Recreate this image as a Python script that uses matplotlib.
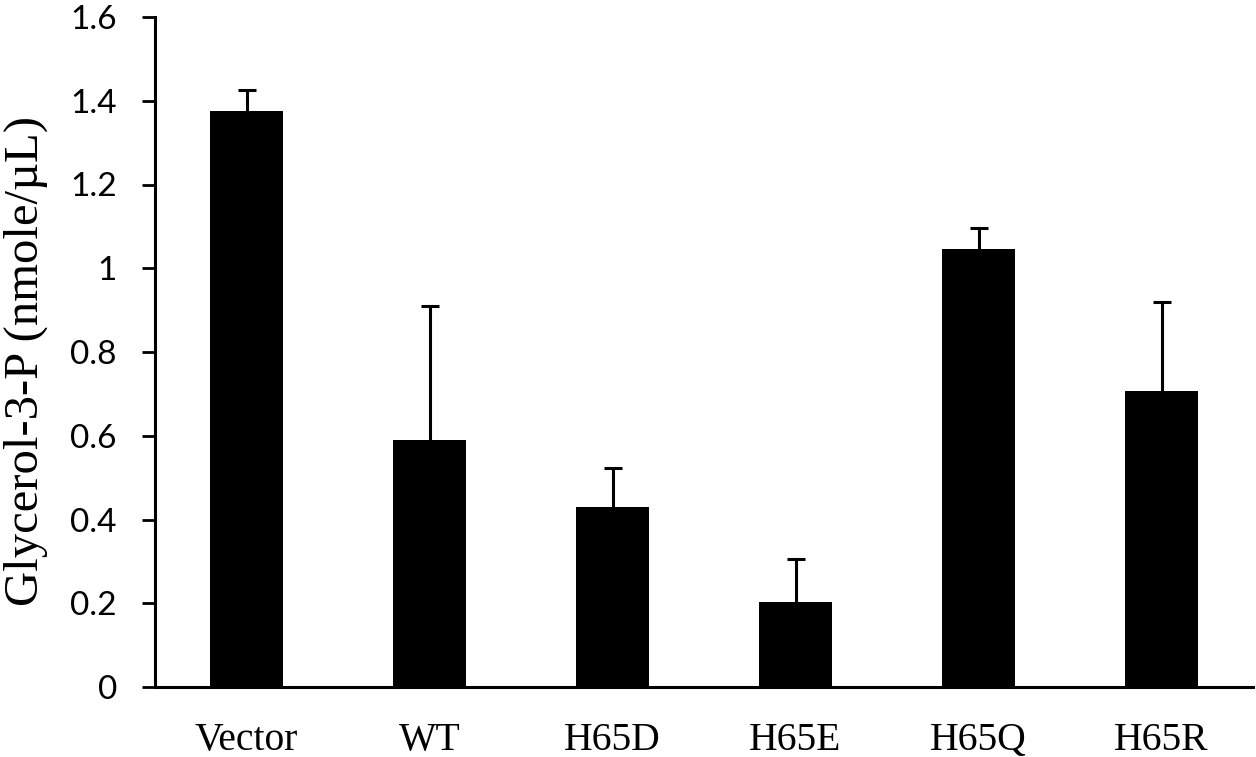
import matplotlib
matplotlib.use("Agg")
import matplotlib.pyplot as plt
import numpy as np

# values
categories = ["Vector", "WT", "H65D", "H65E", "H65Q", "H65R"]
means = [1.375, 0.59, 0.43, 0.203, 1.045, 0.708]
errors = [0.05, 0.32, 0.092, 0.102, 0.05, 0.212]
y_ticks = [0, 0.2, 0.4, 0.6, 0.8, 1, 1.2, 1.4, 1.6]
y_tick_labels = ["0", "0.2", "0.4", "0.6", "0.8", "1", "1.2", "1.4", "1.6"]
y_label = "Glycerol-3-P (nmole/\u00b5L)"

fig = plt.figure(figsize=(12.56, 7.57), dpi=100)
ax = fig.add_axes([155 / 1256, 70 / 757, 1098 / 1256, 670 / 757])

x = np.arange(len(categories))
zeros = [0] * len(errors)
ax.bar(x, means, width=0.4, color="black", zorder=2)
eb = ax.errorbar(x, means, yerr=[zeros, errors], fmt="none", ecolor="black",
                 elinewidth=2.2, capsize=6.5, capthick=2.2, zorder=1)
# only the upper cap is drawn in the original
eb[1][0].set_visible(False)

ax.set_xlim(-0.5, len(categories) - 0.5)
ax.set_ylim(0, 1.6)
ax.set_yticks(y_ticks)
ax.set_yticklabels(y_tick_labels, fontfamily="Lato", fontsize=24)
ax.set_xticks(x)
ax.set_xticklabels(categories, fontfamily="Liberation Serif", fontsize=28.5)
ax.tick_params(axis="x", length=0, pad=25)
ax.tick_params(axis="y", length=9.4, width=2.0, pad=18)
ax.set_ylabel(y_label, fontfamily="Liberation Serif", fontsize=35)
ax.yaxis.set_label_coords(-0.097, 0.487)

for side in ["top", "right"]:
    ax.spines[side].set_visible(False)
for side in ["left", "bottom"]:
    ax.spines[side].set_linewidth(2.2)

fig.savefig("out.png", dpi=100)
